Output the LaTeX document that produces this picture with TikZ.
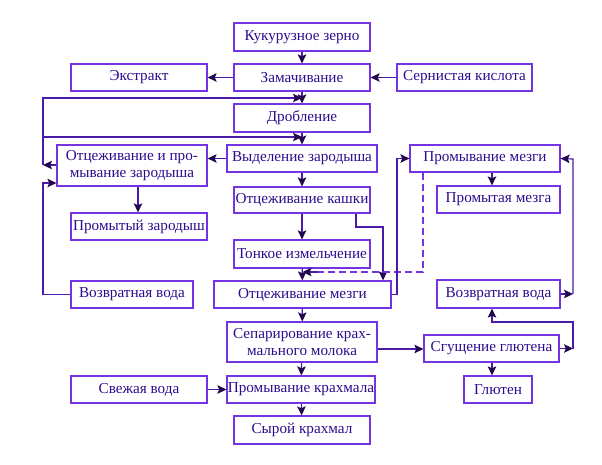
\documentclass[tikz,border=0pt]{standalone}
\usepackage{fontspec}
\setmainfont{Liberation Serif}
\definecolor{VioletCadre}{HTML}{7434E4}
\definecolor{EncreTexte}{HTML}{2C0C8C}
\definecolor{TraitLigne}{HTML}{4A1AA8}
\definecolor{TraitFleche}{HTML}{24084E}
\usetikzlibrary{arrows.meta}
\usetikzlibrary{calc}

\begin{document}
\begin{tikzpicture}
	[x=1pt, y=-1pt,
	every node/.style = {shape=rectangle, draw=VioletCadre, line width=1.2pt,
		align=center, text=EncreTexte, inner sep=0pt, font=\fontsize{15.2}{16.5}\selectfont},
	boite/.style 2 args = {minimum width=#1pt, minimum height=#2pt},
	trait/.style = {draw=TraitLigne, line width=1.2pt},
	fleche/.style = {trait, -{Stealth[length=9pt,width=8.5pt,inset=1.8pt,color=TraitFleche]}},
	tirets/.style = {draw=VioletCadre, line width=1.2pt, dash pattern=on 7pt off 4pt}]
	\useasboundingbox (0,0) rectangle (602,464);
	% colonne centrale
	\node[boite={136}{28}] (zerno) at (302,37) {Кукурузное зерно};
	\node[boite={136}{27}] (zamach) at (302,77.5) {Замачивание};
	\node[boite={136}{27}] (ekstrakt) at (139,77.5) {Экстракт};
	\node[boite={135}{27}] (kislota) at (464.5,77.5) {Сернистая кислота};
	\node[boite={136}{28}] (droblenie) at (302,118) {Дробление};
	\node[boite={150}{27}] (vydelenie) at (302,158.5) {Выделение зародыша};
	\node[boite={136}{26}] (kashka) at (302,200) {Отцеживание кашки};
	\node[boite={136}{28}] (tonkoe) at (302,254) {Тонкое измельчение};
	\node[boite={177}{27}] (otzmezgi) at (302.5,294.5) {Отцеживание мезги};
	\node[boite={150}{40}] (separ) at (302,342) {Сепарирование крах-\\мального молока};
	\node[boite={148}{27}] (promkrahm) at (301,389.5) {Промывание крахмала};
	\node[boite={136}{28}] (syrkrahm) at (302,430) {Сырой крахмал};
	% zarodysh
	\node[boite={150}{41}] (otzzar) at (132,165.5) {Отцеживание и про-\\мывание зародыша};
	\node[boite={136}{27}] (promzar) at (139,226.5) {Промытый зародыш};
	\node[boite={122}{27}] (vozvratL) at (132,294.5) {Возвратная вода};
	\node[boite={136}{27}] (svezh) at (139,389.5) {Свежая вода};
	% mezga, gluten
	\node[boite={150}{27}] (prommezgi) at (485,158.5) {Промывание мезги};
	\node[boite={123}{27}] (prommezga) at (498.5,199.5) {Промытая мезга};
	\node[boite={123}{28}] (vozvratR) at (498.5,294) {Возвратная вода};
	\node[boite={135}{27}] (sgusch) at (491.5,348.5) {Сгущение глютена};
	\node[boite={68}{27}] (gluten) at (498,389.5) {Глютен};

	\coordinate (bordG) at (43,98);
	\coordinate (bordD) at (573,159);

	\draw[fleche] (zerno) -- (zamach);
	\draw[fleche] (zamach) -- (ekstrakt);
	\draw[fleche] (kislota) -- (zamach);
	\draw[fleche] (zamach) -- (droblenie);
	\draw[fleche] (droblenie) -- (vydelenie);
	\draw[fleche] (vydelenie) -- (kashka);
	\draw[fleche] (kashka) -- (tonkoe);
	\draw[fleche] (tonkoe) -- (otzmezgi);
	\draw[fleche] (otzmezgi) -- (separ);
	\draw[fleche] (separ) -- (promkrahm);
	\draw[fleche] (promkrahm) -- (syrkrahm);
	\draw[fleche] (svezh) -- (promkrahm);
	% voda vozvratnaya sleva
	\draw[fleche] (vydelenie.west) -- (vydelenie.west -| otzzar.east);
	\draw[fleche] (otzzar.west |- 0,165) -- (bordG |- 0,165);
	\draw[fleche] (bordG |- 0,165) -- (bordG) -- (bordG -| zamach.south);
	\draw[fleche] (bordG |- 0,137) -- (droblenie.south |- 0,137);
	\draw[fleche] (vozvratL.west) -- (bordG |- vozvratL.west) -- (bordG |- 0,183) -- (otzzar.west |- 0,183);
	\draw[fleche] (otzzar.south -| 138,0) -- (promzar.north -| 138,0);
	% mezga
	\draw[fleche] (kashka.south -| 356,0) -- (356,227) -- (383,227) -- (otzmezgi.north -| 383,0);
	\draw[tirets] (prommezgi.south -| 423,0) -- (423,272) -- (318,272);
	\draw[fleche] (318,272) -- (otzmezgi.north |- 0,272);
	\draw[fleche] (otzmezgi.east) -- (397,294.5) -- (397,158.5) -- (prommezgi.west);
	\draw[fleche] (prommezgi.south -| 492,0) -- (prommezga.north -| 492,0);
	\draw[fleche] (vozvratR.east) -- (bordD |- vozvratR.east);
	\draw[fleche] (bordD |- vozvratR.east) -- (bordD) -- (prommezgi.east);
	% gluten
	\draw[fleche] (separ.east |- 0,349) -- (sgusch.west |- 0,349);
	\draw[fleche] (sgusch.east) -- (bordD |- sgusch.east);
	\draw[fleche] (bordD |- sgusch.east) -- (bordD |- 0,322) -- (492,322) -- (vozvratR.south -| 492,0);
	\draw[fleche] (sgusch.south -| 492,0) -- (gluten.north -| 492,0);
\end{tikzpicture}
\end{document}
